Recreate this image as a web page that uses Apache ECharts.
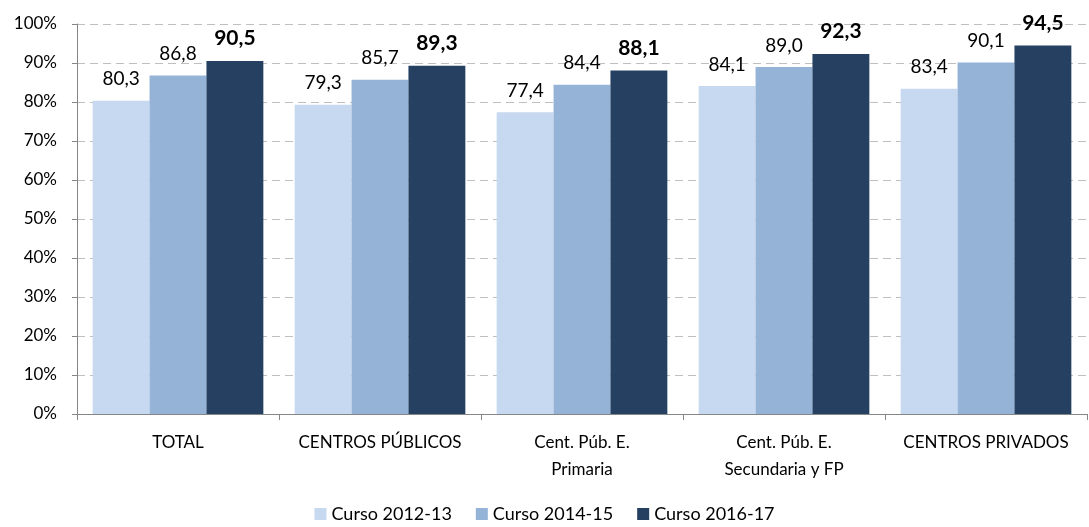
<!DOCTYPE html>
<html><head><meta charset="utf-8">
<script src="https://cdn.jsdelivr.net/npm/echarts@6/dist/echarts.min.js"></script>
<style>html,body{margin:0;padding:0;background:#fff}#c{width:1089px;height:527px}</style>
</head><body><div id="c"></div>
<script>
const categories = ['TOTAL','CENTROS PÚBLICOS','Cent. Púb. E.\nPrimaria','Cent. Púb. E.\nSecundaria y FP','CENTROS PRIVADOS'];
const seriesNames = ['Curso 2012-13','Curso 2014-15','Curso 2016-17'];
const s2012 = [80.3, 79.3, 77.4, 84.1, 83.4];
const s2014 = [86.8, 85.7, 84.4, 89.0, 90.1];
const s2016 = [90.5, 89.3, 88.1, 92.3, 94.5];
const colors = ['#C6D9F1','#95B3D7','#254061'];
const FONT = 'Lato, "Open Sans", sans-serif';
const fmt = p => p.value.toFixed(1).replace('.', ',');
function mk(name, data, i, bold){
  return {name, type:'bar', data, barGap:'0%', barCategoryGap:'15.5%',
    itemStyle:{color:colors[i]},
    label:{show:true, position:'top', distance: bold?12:12, formatter:fmt,
      fontFamily:FONT, fontSize: bold?21:19, fontWeight: bold?'bold':'normal', color:'#000'}};
}
const chart = echarts.init(document.getElementById('c'));
chart.setOption({
  animation:false,
  textStyle:{fontFamily:FONT},
  grid:{left:77, right:2, top:24, bottom:113},
  legend:{bottom:-1, itemWidth:12, itemHeight:12, itemGap:24, icon:'rect',
    textStyle:{fontFamily:FONT, fontSize:18, color:'#000'}, data:seriesNames},
  xAxis:{type:'category', data:categories,
    axisLine:{lineStyle:{color:'#868686'}},
    axisTick:{show:true, length:6, lineStyle:{color:'#868686'}},
    axisLabel:{fontFamily:FONT, fontSize:17, color:'#000', margin:15, lineHeight:27, interval:0}},
  yAxis:{type:'value', min:0, max:100, interval:10,
    axisLine:{show:true, lineStyle:{color:'#868686'}},
    axisTick:{show:true, inside:false, length:5, lineStyle:{color:'#868686'}},
    axisLabel:{formatter:'{value}%', fontFamily:FONT, fontSize:17, color:'#000', margin:20},
    splitLine:{lineStyle:{color:'#BFBFBF', type:[8,5], width:1}}},
  series:[mk(seriesNames[0], s2012, 0, false), mk(seriesNames[1], s2014, 1, false), mk(seriesNames[2], s2016, 2, true)]
});
</script></body></html>
